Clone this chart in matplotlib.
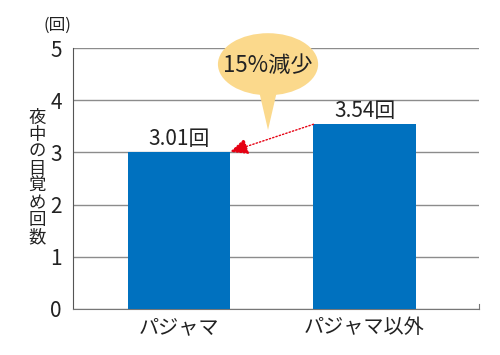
import matplotlib
matplotlib.use("Agg")
import matplotlib.pyplot as plt
from matplotlib.patches import Ellipse, Polygon

plt.rcParams['font.family'] = ['Noto Sans CJK JP', 'DejaVu Sans']

# data
categories = ['パジャマ', 'パジャマ以外']
values = [3.01, 3.54]
value_labels = ['3.01回', '3.54回']
yticks = [0, 1, 2, 3, 4, 5]
ylabel = '夜中の目覚め回数'
unit = '(回)'
callout = '15%減少'

bar_color = '#0071bf'
grid_color = '#8c8c8c'
red = '#e60012'
bubble_color = '#fbd98c'

fig = plt.figure(figsize=(5, 3.55), dpi=100)
ax = fig.add_axes([0.146, 0.1296, 0.812, 0.735])

x = list(range(len(categories)))
bar_w = 0.55
ax.bar(x, values, width=bar_w, color=bar_color, zorder=3)

ax.set_xlim(-0.571, 1.617)
ax.set_ylim(0, 5)
ax.set_yticks(yticks)
ax.set_xticks(x)
ax.set_xticklabels(categories, fontsize=14.5)
ax.tick_params(axis='y', length=0, labelsize=15, pad=8, colors='#222222')
ax.tick_params(axis='x', length=0, labelsize=14.5, pad=6, colors='#222222')
ax.grid(axis='y', color=grid_color, lw=1, zorder=1)

ax.spines['top'].set_visible(False)
ax.spines['left'].set_color('#555555')
ax.spines['bottom'].set_color('#777777')
ax.spines['right'].set_color('#777777')
ax.spines['right'].set_bounds(0, 0.1)

# value labels
for xi, v, lab in zip(x, values, value_labels):
    ax.text(xi, v + 0.04, lab, ha='center', va='bottom', fontsize=15, color='#222222')

# red dotted arrow from bar 2 top-left to bar 1 top-right
ax.annotate('', xy=(x[0] + bar_w / 2, values[0]), xytext=(x[1] - bar_w / 2, values[1]),
            arrowprops=dict(arrowstyle='-|>,head_length=1.1,head_width=0.5', color=red,
                            lw=1.0, linestyle=(0, (1, 1.5)), shrinkA=0, shrinkB=0),
            zorder=5)

# speech bubble
bx, by = 0.48, 4.69
tri = Polygon([(bx - 0.05, 4.2), (bx + 0.05, 4.2), (bx, 3.43)], closed=True,
              facecolor=bubble_color, edgecolor='none', zorder=4, clip_on=False)
ax.add_patch(tri)
ell = Ellipse((bx, by), 0.54, 1.19, facecolor=bubble_color, edgecolor='none',
              zorder=4, clip_on=False)
ax.add_patch(ell)
ax.text(bx, by - 0.02, callout, ha='center', va='center', fontsize=16,
        color='#222222', zorder=6)

# y label stacked vertically
fig.text(0.074, 0.50, '\n'.join(ylabel), ha='center', va='center', fontsize=12.5,
         linespacing=0.93, color='#222222')
fig.text(0.114, 0.93, unit, ha='center', va='center', fontsize=12, color='#222222')

fig.savefig('out.png', dpi=100)
